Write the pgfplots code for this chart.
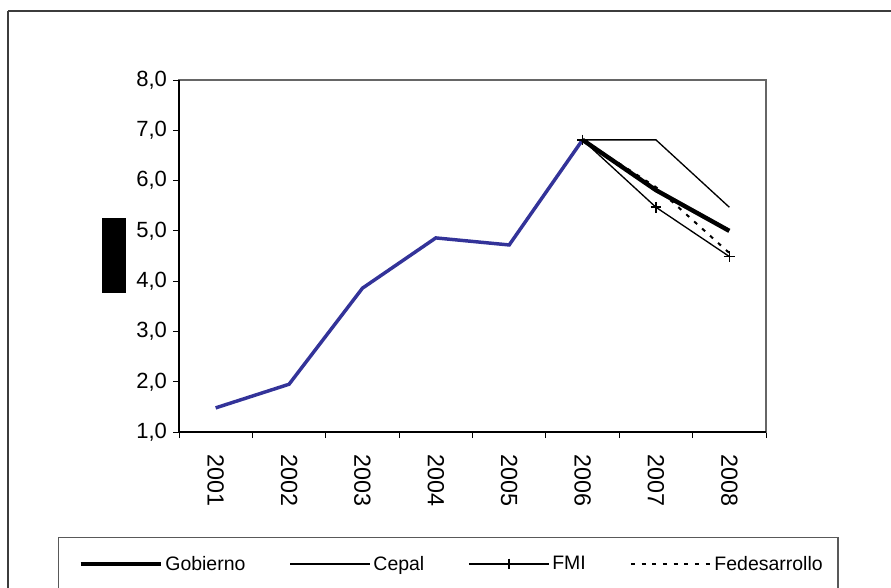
\documentclass[border=0pt]{standalone}
\usepackage{fontspec}
\setmainfont{Liberation Sans}
\usepackage{pgfplots}
\pgfplotsset{compat=1.18}

\definecolor{histblue}{RGB}{51,51,153}
\definecolor{frame}{RGB}{60,60,60}

\pgfplotstableread{
yr  val
0   1.48
1   1.95
2   3.86
3   4.86
4   4.72
5   6.81
}\historico

\begin{document}
\begin{tikzpicture}
\useasboundingbox (0,0) rectangle (668.25pt,-440.25pt);
\clip (0,0) rectangle (668.25pt,-440.25pt);

\begin{scope}[x=0.75pt,y=-0.75pt]
  % outer chart frame
  \draw[frame,line width=1.6pt] (8,11) -- (900,11);
  \draw[frame,line width=1.6pt] (8,11) -- (8,600);
  % legend frame
  \draw[gray!70!black,line width=0.8pt] (58.5,600) -- (58.5,537.5) -- (838,537.5) -- (838,600);
  % label block beside the value axis
  \fill[black] (102,218) rectangle (126,293);
\end{scope}

\begin{axis}[
  scale only axis,
  width=440.25pt, height=264pt,
  at={(134.25pt,-324pt)}, anchor=south west,
  xmin=-0.5, xmax=7.5, ymin=1, ymax=8,
  ytick={1,2,...,8},
  xtick={0,1,...,7},
  xticklabels={2001,2002,2003,2004,2005,2006,2007,2008},
  minor xtick={-0.5,0.5,...,7.5},
  major x tick style={draw=none},
  xtick pos=bottom, ytick pos=left,
  tick align=outside,
  major tick length=4.5pt,
  minor tick length=4.5pt,
  tick style={black,line width=0.6pt},
  axis line style={draw=gray!80!black,line width=0.8pt},
  /pgf/number format/assume math mode=true,
  /pgf/number format/.cd, use comma, fixed, fixed zerofill, precision=1,
  /pgfplots/.cd,
  ticklabel style={font=\fontsize{16.5}{18}\selectfont},
  yticklabel style={xshift=-1pt},
  xticklabel style={font=\fontsize{17.5}{19}\selectfont, rotate=-90, anchor=west, xshift=9pt},
  legend columns=4,
  legend style={draw=none, fill=none, font=\fontsize{14.6}{16}\selectfont,
    at={(-0.172,-0.375)}, anchor=west, inner sep=0pt,
    /tikz/every even column/.append style={column sep=31pt}},
  legend image code/.code={%
    \draw[mark repeat=2,mark phase=2,#1] plot coordinates {(0pt,0pt) (30pt,0pt) (60pt,0pt)};},
  clip=false,
]
\addplot[histblue, line width=2.6pt, forget plot] table[x=yr,y=val] {\historico};

\addplot[black, line width=3.3pt] coordinates {(5,6.81) (6,5.81) (7,5.00)};
\addlegendentry{Gobierno}
\addplot[black, line width=1pt] coordinates {(5,6.81) (6,6.81) (7,5.47)};
\addlegendentry{Cepal}
\addplot[black, line width=1pt, mark=+, mark size=4pt, mark options={line width=1.2pt}]
  coordinates {(5,6.81) (6,5.47) (7,4.49)};
\addlegendentry{FMI}
\addplot[black, line width=1.5pt, dash pattern=on 3pt off 5pt]
  coordinates {(5,6.81) (6,5.87) (7,4.56)};
\addlegendentry{Fedesarrollo}

\draw[black,line width=0.8pt] (rel axis cs:0,1) -- (rel axis cs:0,0) -- (rel axis cs:1,0);
\end{axis}
\end{tikzpicture}
\end{document}
